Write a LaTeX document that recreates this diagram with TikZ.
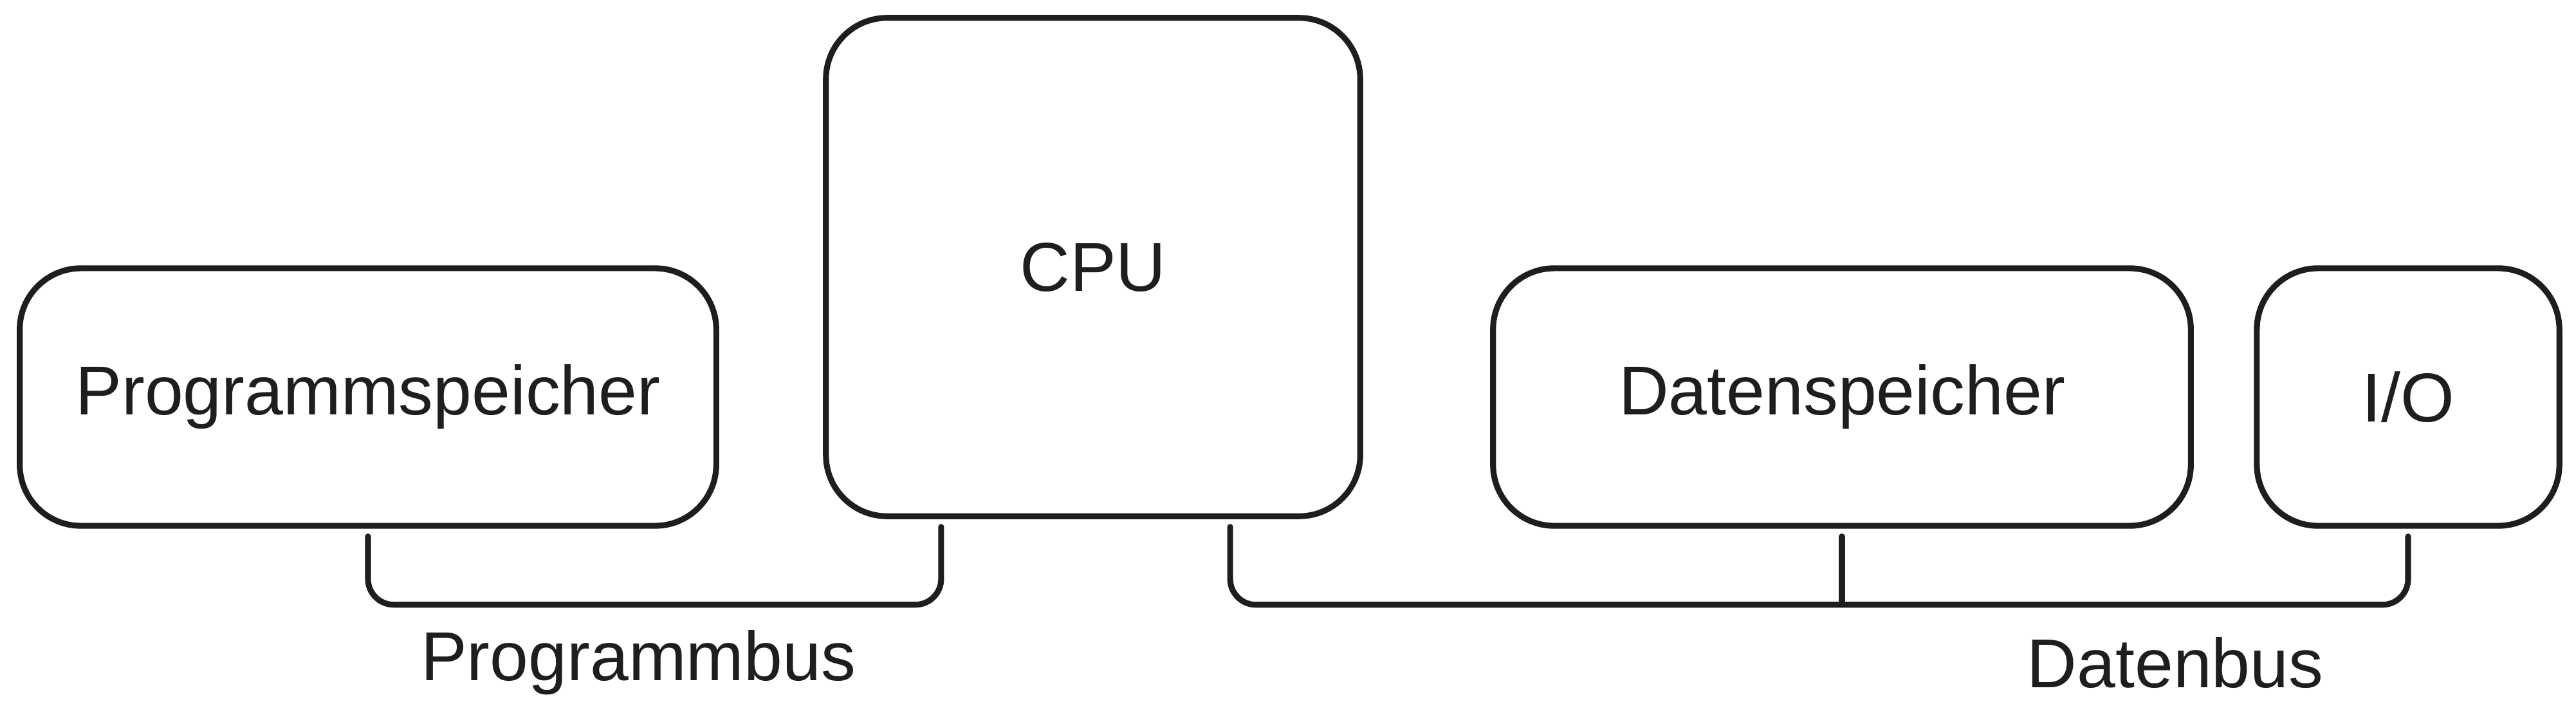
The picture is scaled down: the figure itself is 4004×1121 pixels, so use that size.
\documentclass[tikz,border=0pt]{standalone}
\usepackage{fontspec}
\setmainfont{Liberation Sans}
\usepackage{tikz}
\usetikzlibrary{calc}
\usetikzlibrary{positioning}
\definecolor{ink}{HTML}{1E1E1E}

\begin{document}
\begin{tikzpicture}[x=0.01cm, y=-0.01cm,
		box/.style={rectangle, draw=ink, line width=2.6pt, rounded corners=0.95cm, inner sep=0pt, text=ink, font=\fontsize{30.6}{36}\selectfont},
		bus/.style={draw=ink, line width=2.6pt, rounded corners=0.4cm, line cap=round},
		lbl/.style={text=ink, inner sep=0pt, font=\fontsize{30.6}{36}\selectfont}]
				\useasboundingbox (0,0) rectangle (4004,1121);
				
				\node[box, minimum width=10.82cm, minimum height=4cm] (prog) at (572,617) {Programmspeicher};
				\node[box, minimum width=8.3cm, minimum height=7.74cm] (cpu) at (1699,415) {CPU};
				\node[box, minimum width=10.84cm, minimum height=4cm] (dat) at (2863,617) {Datenspeicher};
				\node[box, minimum width=4.7cm, minimum height=4cm] (io) at (3743,617) {I/O};
				
				\draw[bus] ([yshift=-0.12cm]prog.south) -- ++(0,106) -| ([xshift=-2.36cm, yshift=-0.12cm]cpu.south);
				\draw[bus] ([xshift=2.13cm, yshift=-0.12cm]cpu.south) -- ++(0,121) -| ([yshift=-0.12cm]io.south);
				\draw[bus] ([yshift=-0.12cm]dat.south) -- ++(0,106);
				
				\node[lbl] (pbus) at (992,1030) {Programmbus};
				\node[lbl] (dbus) at (3381,1030) {Datenbus};
			\end{tikzpicture}
\end{document}
